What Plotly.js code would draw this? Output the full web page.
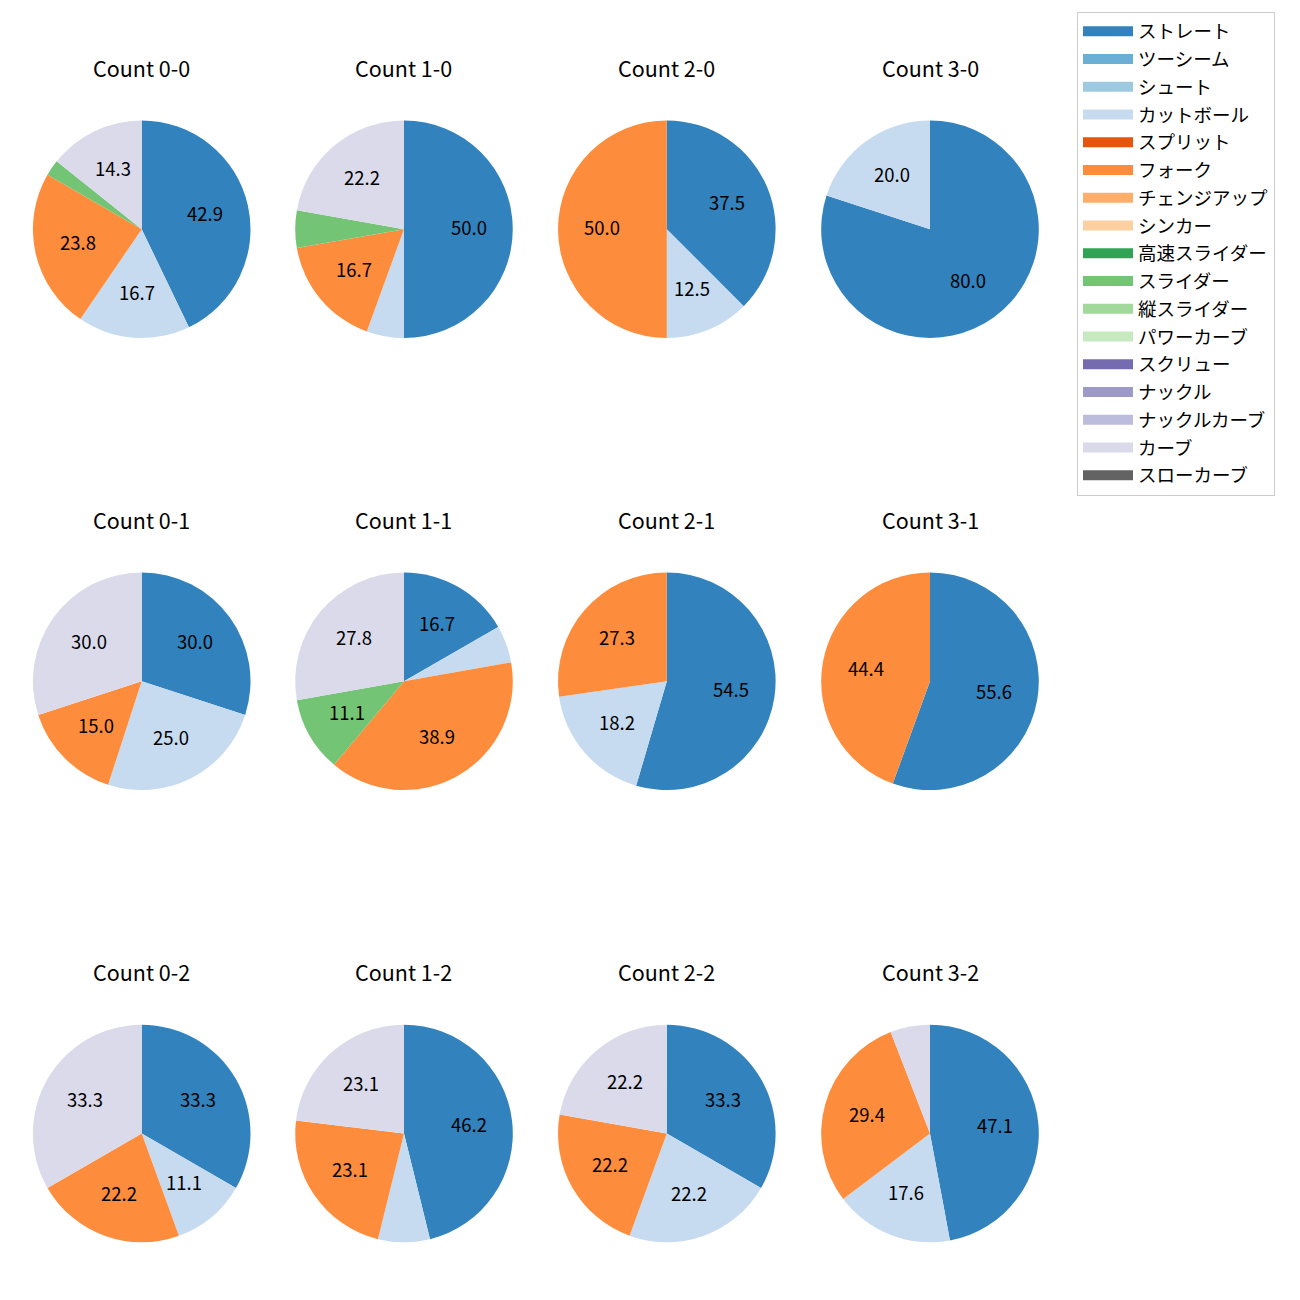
<!DOCTYPE html>
<html>
<head>
<meta charset="utf-8">
<script src="https://cdn.plot.ly/plotly-3.0.1.min.js"></script>
<style>html,body{margin:0;padding:0;background:#fff;}</style>
</head>
<body>
<div id="chart" style="width:1300px;height:1300px;"></div>
<script>
// ---- data ----
const countLabels = ['Count 0-0','Count 1-0','Count 2-0','Count 3-0',
                     'Count 0-1','Count 1-1','Count 2-1','Count 3-1',
                     'Count 0-2','Count 1-2','Count 2-2','Count 3-2'];
const pitchTypes = ['ストレート','ツーシーム','シュート','カットボール','スプリット','フォーク',
                    'チェンジアップ','シンカー','高速スライダー','スライダー','縦スライダー',
                    'パワーカーブ','スクリュー','ナックル','ナックルカーブ','カーブ','スローカーブ'];
const pitchColors = ['#3182bd','#6baed6','#9ecae1','#c6dbef','#e6550d','#fd8d3c',
                     '#fdae6b','#fdd0a2','#31a354','#74c476','#a1d99b',
                     '#c7e9c0','#756bb1','#9e9ac8','#bcbddc','#dadaeb','#636363'];
// pitch counts per ball-strike count (same order as countLabels)
const straight = [18, 9, 3, 4,  6, 3, 6, 5,  3, 6, 3, 8];
const cutter   = [ 7, 1, 1, 1,  5, 1, 2, 0,  1, 1, 2, 3];
const fork     = [10, 3, 4, 0,  3, 7, 3, 4,  2, 3, 2, 5];
const slider   = [ 1, 1, 0, 0,  0, 2, 0, 0,  0, 0, 0, 0];
const curve    = [ 6, 4, 0, 0,  6, 5, 0, 0,  3, 3, 2, 1];
const seriesByType = {'ストレート': straight, 'カットボール': cutter, 'フォーク': fork,
                      'スライダー': slider, 'カーブ': curve};

// ---- layout geometry ----
const W = 1300, H = 1300;
const colCenters = [141.7, 404, 666.8, 930];
const rowCenters = [229.2, 681.3, 1133.5];
const R = 108.8;
const titleOffset = 162;
const labelLift = 2;
const FONT = '"Noto Sans CJK JP", "Noto Sans", sans-serif';

const traces = [];
const annotations = [];

countLabels.forEach((title, i) => {
  const cx = colCenters[i % 4], cy = rowCenters[Math.floor(i / 4)];
  const labels = [], values = [], colors = [];
  pitchTypes.forEach((p, k) => {
    const s = seriesByType[p];
    if (s && s[i] > 0) { labels.push(p); values.push(s[i]); colors.push(pitchColors[k]); }
  });
  traces.push({
    type: 'pie', labels: labels, values: values, sort: false,
    direction: 'clockwise', rotation: 0, textinfo: 'none', hoverinfo: 'label+percent',
    marker: {colors: colors, line: {width: 0}}, showlegend: false,
    domain: {x: [(cx - R) / W, (cx + R) / W], y: [1 - (cy + R) / H, 1 - (cy - R) / H]}
  });
  annotations.push({
    text: title, xref: 'paper', yref: 'paper', x: cx / W, y: 1 - (cy - titleOffset) / H,
    xanchor: 'center', yanchor: 'middle', showarrow: false,
    font: {family: FONT, size: 21.5, color: '#000'}
  });
  const total = values.reduce((a, b) => a + b, 0);
  let cum = 0;
  values.forEach(v => {
    const pct = v / total * 100;
    const mid = (cum + v / 2) / total * 2 * Math.PI;
    cum += v;
    if (pct >= 10) {
      annotations.push({
        text: pct.toFixed(1), xref: 'paper', yref: 'paper',
        x: (cx + 0.6 * R * Math.sin(mid)) / W,
        y: 1 - (cy - 0.6 * R * Math.cos(mid) - labelLift) / H,
        xanchor: 'center', yanchor: 'middle', showarrow: false,
        font: {family: FONT, size: 18.5, color: '#000'}
      });
    }
  });
});

// legend entries (one per pitch type)
pitchTypes.forEach((p, k) => {
  traces.push({
    type: 'scatter', mode: 'lines', x: [null], y: [null], name: p,
    legendgroup: 'g' + k, line: {color: pitchColors[k], width: 10},
    hoverinfo: 'skip', showlegend: true
  });
});

const layout = {
  width: W, height: H,
  margin: {l: 0, r: 0, t: 0, b: 0},
  paper_bgcolor: '#fff', plot_bgcolor: 'rgba(0,0,0,0)',
  xaxis: {visible: false}, yaxis: {visible: false},
  showlegend: true,
  legend: {
    x: 1077 / W, y: 1 - 11.7 / H, xanchor: 'left', yanchor: 'top',
    bgcolor: '#fff', bordercolor: '#cccccc', borderwidth: 1,
    font: {family: FONT, size: 18.5, color: '#000'},
    tracegroupgap: 0.7, itemwidth: 50
  },
  annotations: annotations
};

Plotly.newPlot('chart', traces, layout, {displayModeBar: false, staticPlot: true});
</script>
</body>
</html>
